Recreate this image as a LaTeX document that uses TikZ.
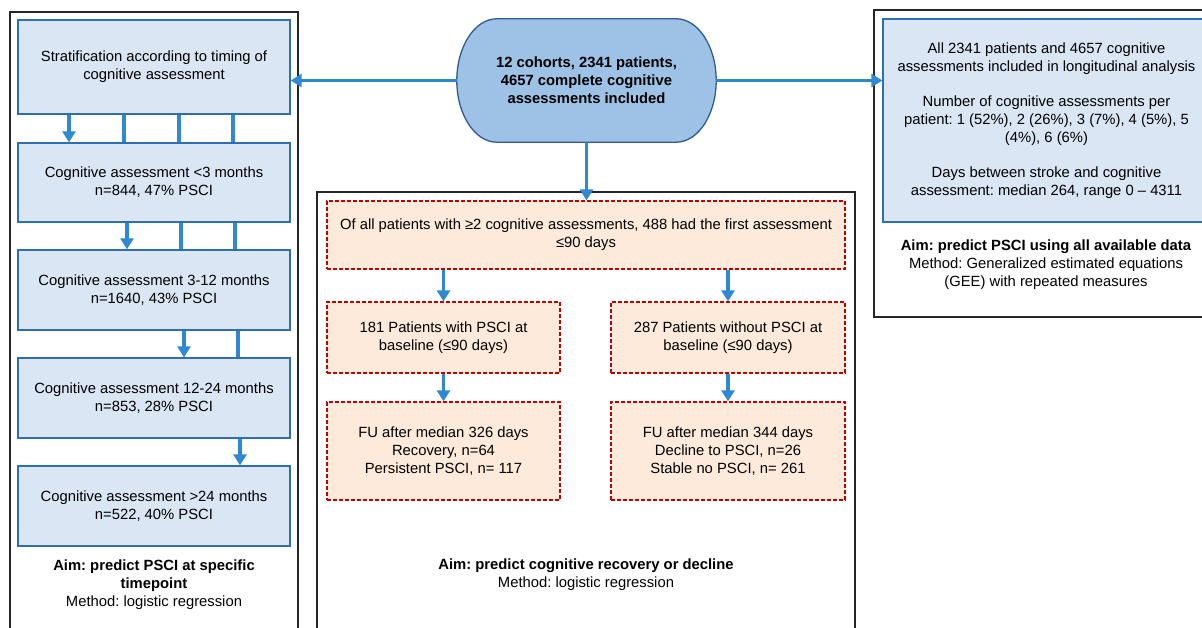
\documentclass[tikz,border=0pt]{standalone}
\usepackage{fontspec}
\setmainfont{Liberation Sans}
\usetikzlibrary{arrows.meta,backgrounds}

\definecolor{boxfill}{RGB}{218,230,244}
\definecolor{boxline}{RGB}{46,110,180}
\definecolor{ovalfill}{RGB}{157,194,230}
\definecolor{ovalline}{RGB}{47,90,150}
\definecolor{flowblue}{RGB}{47,136,210}
\definecolor{peach}{RGB}{253,234,218}
\definecolor{dashred}{RGB}{192,0,0}
\newcommand\figfont{\fontsize{14.8}{18}\selectfont\frenchspacing}

\begin{document}
\begin{tikzpicture}[x=1pt, y=-1pt, font=\figfont,
    panel/.style={draw=black!85, line width=1.8pt},
    bluebox/.style={draw=boxline, line width=1.3pt, fill=boxfill, align=center, inner sep=0pt},
    dashbox/.style={draw=dashred, line width=1.3pt, dash pattern=on 4pt off 2pt, fill=peach, align=center, inner sep=0pt},
    aimtext/.style={align=center, inner sep=0pt},
    flow/.style={draw=flowblue, line width=3.2pt, -{Triangle[width=13pt,length=11pt]}},
    link/.style={draw=flowblue, line width=3.2pt}]

    \clip (0,0) rectangle (1202,628);

    % frames
    \draw[panel] (10,12) rectangle (298,650);
    \draw[panel] (317,192) rectangle (855,650);
    \draw[panel] (874,10) rectangle (1220,317);

    % centre
    \node[minimum width=259pt, minimum height=123pt, align=center,
      font=\figfont\bfseries] (cohorts) at (586.5,80.5)
      {12 cohorts, 2341 patients,\\4657 complete cognitive\\assessments included};
    \begin{scope}[on background layer]
      \fill[white] (0,0) rectangle (1202,628);
      \draw[draw=ovalline, line width=1.3pt, fill=ovalfill]
        ([xshift=40pt]cohorts.north west) -- ([xshift=-40pt]cohorts.north east)
        .. controls ([xshift=-18pt]cohorts.north east) and ([yshift=34pt]cohorts.east) .. (cohorts.east)
        .. controls ([yshift=-34pt]cohorts.east) and ([xshift=-18pt]cohorts.south east) .. ([xshift=-40pt]cohorts.south east)
        -- ([xshift=40pt]cohorts.south west)
        .. controls ([xshift=18pt]cohorts.south west) and ([yshift=-34pt]cohorts.west) .. (cohorts.west)
        .. controls ([yshift=34pt]cohorts.west) and ([xshift=18pt]cohorts.north west) .. ([xshift=40pt]cohorts.north west)
        -- cycle;
    \end{scope}

    % left: timing
    \node[bluebox, minimum width=272pt, minimum height=94pt] (strat) at (154,67)
      {Stratification according to timing of\\cognitive assessment};
    \node[bluebox, minimum width=272pt, minimum height=79pt] (cga1) at (154,182.5)
      {Cognitive assessment <3 months\\n=844, 47\% PSCI};
    \node[bluebox, minimum width=272pt, minimum height=80pt] (cga2) at (154,290)
      {Cognitive assessment 3-12 months\\n=1640, 43\% PSCI};
    \node[bluebox, minimum width=272pt, minimum height=80pt] (cga3) at (154,398)
      {Cognitive assessment 12-24 months\\n=853, 28\% PSCI};
    \node[bluebox, minimum width=272pt, minimum height=80pt] (cga4) at (154,506)
      {Cognitive assessment >24 months\\n=522, 40\% PSCI};
    \node[aimtext] (aimleft) at (154,585)
      {\textbf{Aim: predict PSCI at specific}\\\textbf{timepoint}\\Method: logistic regression};

    % middle: recovery / decline
    \node[dashbox, minimum width=518pt, minimum height=68pt] (first) at (586,235)
      {Of all patients with ≥2 cognitive assessments, 488 had the first assessment\\≤90 days};
    \node[dashbox, minimum width=233pt, minimum height=71pt] (withpsci) at (443.5,337.5)
      {181 Patients with PSCI at\\baseline (≤90 days)};
    \node[dashbox, minimum width=234pt, minimum height=71pt] (nopsci) at (728,337.5)
      {287 Patients without PSCI at\\baseline (≤90 days)};
    \node[dashbox, minimum width=233pt, minimum height=98pt] (fuleft) at (443.5,451)
      {FU after median 326 days\\Recovery, n=64\\Persistent PSCI, n= 117};
    \node[dashbox, minimum width=234pt, minimum height=98pt] (furight) at (728,451)
      {FU after median 344 days\\Decline to PSCI, n=26\\Stable no PSCI, n= 261};
    \node[aimtext] (aimmid) at (586,575)
      {\textbf{Aim: predict cognitive recovery or decline}\\Method: logistic regression};

    % right: longitudinal
    \node[bluebox, minimum width=327pt, minimum height=203pt] (longdata) at (1046.5,120.5)
      {All 2341 patients and 4657 cognitive\\assessments included in longitudinal analysis\\[17pt]
       Number of cognitive assessments per\\patient: 1 (52\%), 2 (26\%), 3 (7\%), 4 (5\%), 5\\(4\%), 6 (6\%)\\[17pt]
       Days between stroke and cognitive\\assessment: median 264, range 0 – 4311};
    \node[aimtext] (aimright) at (1046,265)
      {\textbf{Aim: predict PSCI using all available data}\\Method: Generalized estimated equations\\(GEE) with repeated measures};

    % arrows from centre
    \draw[flow] (cohorts.west) -- (cohorts.west -| strat.east);
    \draw[flow] (cohorts.east) -- (cohorts.east -| longdata.west);
    \draw[flow] (cohorts.south) -- (cohorts.south |- first.north);

    % timing cascade
    \draw[flow] (strat.south -| 69,0) -- (cga1.north -| 69,0);
    \foreach \x in {124,179,233}
      \draw[link] (strat.south -| \x,0) -- (cga1.north -| \x,0);
    \draw[flow] (cga1.south -| 127,0) -- (cga2.north -| 127,0);
    \foreach \x in {181,235}
      \draw[link] (cga1.south -| \x,0) -- (cga2.north -| \x,0);
    \draw[flow] (cga2.south -| 184,0) -- (cga3.north -| 184,0);
    \draw[link] (cga2.south -| 238,0) -- (cga3.north -| 238,0);
    \draw[flow] (cga3.south -| 240,0) -- (cga4.north -| 240,0);

    % recovery / decline
    \draw[flow] (first.south -| withpsci.north) -- (withpsci.north);
    \draw[flow] (first.south -| nopsci.north) -- (nopsci.north);
    \draw[flow] (withpsci) -- (fuleft);
    \draw[flow] (nopsci) -- (furight);
\end{tikzpicture}
\end{document}
